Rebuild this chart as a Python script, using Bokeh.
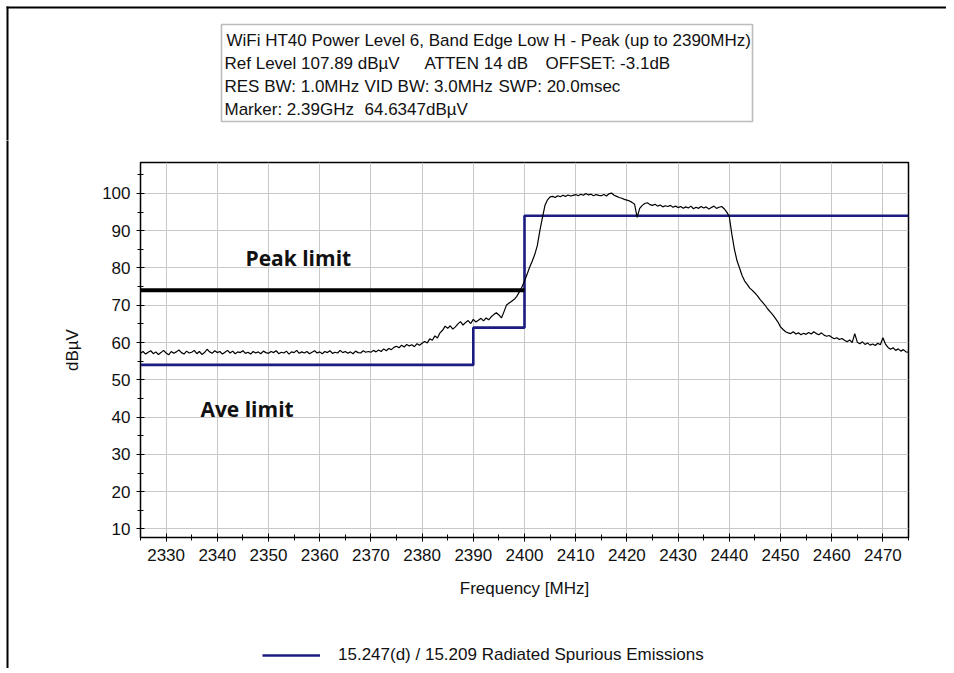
from bokeh.plotting import figure
from bokeh.layouts import column, row
from bokeh.models import (Range1d, SingleIntervalTicker, Label, BoxAnnotation,
                          Legend, LegendItem)
from bokeh.embed import file_html
from bokeh.resources import INLINE

# ---------------- data ----------------
freq_start = 2325.0
freq_step = 0.5
trace_dbuv = [
    57.1, 57.6, 56.9, 57.4, 57.8, 57.0, 57.5, 56.8, 57.3, 57.9,
    57.2, 56.7, 57.6, 57.1, 57.5, 58.0, 57.3, 56.9, 57.7, 57.2,
    57.4, 57.9, 57.0, 57.6, 56.8, 57.3, 58.2, 57.5, 57.1, 57.8,
    57.3, 57.6, 56.9, 57.4, 57.9, 57.2, 57.7, 57.0, 57.5, 57.3,
    57.8, 57.1, 57.4, 56.9, 57.6, 57.2, 57.5, 57.0, 57.7, 57.3,
    57.1, 57.6, 57.3, 57.8, 57.0, 57.4, 57.2, 57.7, 56.9, 57.5,
    57.3, 57.9, 57.1, 57.5, 57.2, 57.6, 57.0, 57.4, 57.8, 57.2,
    57.5, 57.0, 57.6, 57.3, 57.8, 57.1, 57.4, 57.2, 57.9, 57.3,
    57.6, 57.1, 57.5, 57.0, 57.7, 57.3, 57.2, 57.8, 57.4, 57.6,
    57.4, 57.9, 57.5, 58.0, 57.6, 58.3, 57.8, 58.4, 58.1, 58.7,
    59.0, 58.6, 59.3, 58.8, 59.5, 59.1, 59.4, 58.9, 59.7, 59.3,
    59.8, 60.3, 59.9, 61.0, 60.6, 61.8, 61.2, 62.6, 63.3, 64.4,
    63.8, 64.5, 63.6, 64.2, 65.0, 65.6, 64.7, 65.4, 65.9, 65.1,
    66.2, 65.5, 66.0, 66.5, 65.8, 66.6, 66.1, 66.9, 67.5, 68.0,
    67.4, 66.6, 68.3, 70.1, 70.6, 71.1, 71.6, 72.4, 73.6, 74.9,
    76.5, 78.3, 80.2, 81.8, 83.6, 86.0, 90.0, 93.5, 96.8, 98.3,
    99.1, 99.2, 98.9, 99.4, 99.1, 99.5, 99.2, 99.6, 99.3, 99.5,
    99.7, 99.4, 99.8, 99.5, 100.0, 99.6, 99.8, 99.4, 99.7, 99.5,
    99.4, 99.7, 99.3, 99.9, 100.1, 99.5, 99.2, 98.9, 98.7, 98.4,
    98.2, 98.0, 97.6, 97.1, 93.6, 96.0, 96.8, 97.3, 97.5, 97.0,
    96.8, 97.1, 96.6, 96.9, 96.4, 96.7, 96.5, 96.8, 96.3, 96.6,
    96.2, 96.5, 96.0, 96.4, 96.1, 96.6, 95.9, 96.3, 96.0, 96.5,
    96.1, 96.4, 95.8, 96.2, 96.6, 96.0, 96.3, 96.5, 95.9, 95.0,
    93.8, 89.0, 85.0, 82.0, 80.0, 78.0, 76.5, 75.6, 74.6, 74.0,
    73.3, 72.5, 71.6, 70.8, 70.0, 69.0, 68.2, 67.4, 66.5, 65.5,
    64.2, 63.5, 62.9, 62.6, 62.4, 62.9, 62.3, 62.6, 62.1, 62.5,
    62.2, 62.7, 62.3, 62.9, 62.4, 62.1, 62.6, 62.0, 61.7, 61.9,
    61.4, 61.0, 61.3, 60.8, 61.1, 60.6, 60.2, 60.7, 60.0, 62.4,
    60.1, 59.7, 60.2, 59.5, 59.9, 59.3, 59.6, 59.2, 59.8, 59.4,
    61.3, 59.6, 58.7, 58.2, 58.6, 57.9, 58.3, 57.7, 58.1, 57.5,
    57.4,
]
freq_mhz = [freq_start + i * freq_step for i in range(len(trace_dbuv))]

limit_freq = [2325, 2390, 2400, 2475]
limit_dbuv = [54, 64, 94, 94]
peak_limit_freq = [2325, 2400]
peak_limit_dbuv = [74, 74]

header_lines = [
    ["WiFi HT40 Power Level 6, Band Edge Low H - Peak (up to 2390MHz)"],
    ["Ref Level 107.89 dBµV", "ATTEN 14 dB", "OFFSET: -3.1dB"],
    ["RES BW: 1.0MHz", "VID BW: 3.0MHz", "SWP: 20.0msec"],
    ["Marker: 2.39GHz", "64.6347dBµV"],
]
legend_label = "15.247(d) / 15.209 Radiated Spurious Emissions"

FONT = "Liberation Sans"
TXT = "#111111"
NAVY = "#1c1c80"

# page layout (pixels)
HEAD_W = 946
BL, BR = 131, 38          # left / right borders of plot and legend strips
FW = 768                  # frame width
X0 = 9 + BL               # page x of frame left
H_HEAD = 140
H_PLOT = 470
H_LEG = 58
H_ALL = H_HEAD + H_PLOT + H_LEG


def bare(**kw):
    f = figure(x_axis_type=None, y_axis_type=None, tools="",
               toolbar_location=None, output_backend="svg", **kw)
    f.outline_line_color = None
    f.outline_line_alpha = 0
    f.background_fill_color = "white"
    f.border_fill_color = "white"
    f.grid.visible = False
    return f


def black_bar(left, right, top, bottom):
    return BoxAnnotation(left=left, right=right, top=top, bottom=bottom,
                         fill_color="black", fill_alpha=1, line_color=None)


# ---------------- header strip (coordinates = page pixels) ----------------
head = bare(width=HEAD_W, height=H_HEAD, x_range=Range1d(0, HEAD_W),
            y_range=Range1d(H_HEAD, 0), min_border=0, min_border_left=0,
            min_border_right=0, min_border_top=0, min_border_bottom=0)
head.add_layout(black_bar(6, HEAD_W + 10, 6, 8))
head.add_layout(black_bar(6, 8, 6, H_HEAD))
head.add_layout(BoxAnnotation(left=220, right=HEAD_W + 10, top=9, bottom=H_HEAD + 5,
                              fill_color="white", fill_alpha=1, line_color=None,
                              level="overlay"))
head.add_layout(BoxAnnotation(left=221, right=752, top=24, bottom=121,
                              fill_color="white", fill_alpha=1,
                              line_color="#222222", line_width=1.6, level="overlay"))
line_y = [40, 63, 86, 109]
seg_x = [[226], [224, 424, 545], [224, 364, 498], [224, 364]]
for segs, yy, xs in zip(header_lines, line_y, seg_x):
    for txt, xx in zip(segs, xs):
        head.add_layout(Label(x=xx, y=yy, text=txt, text_font=FONT,
                              text_font_size="17px", text_color=TXT,
                              text_baseline="middle", text_align="left",
                              level="overlay"))

# ---------------- left frame strip below the header ----------------
strip = bare(width=9, height=H_PLOT + H_LEG, x_range=Range1d(0, 9),
             y_range=Range1d(H_ALL, H_HEAD), min_border=0, min_border_left=0,
             min_border_right=0, min_border_top=0, min_border_bottom=0)
strip.add_layout(black_bar(6, 8, H_HEAD - 2, H_ALL + 2))

# ---------------- main plot ----------------
p = figure(frame_width=FW, frame_height=375,
           x_range=Range1d(2325, 2475), y_range=Range1d(7.7, 108.3),
           output_backend="svg", toolbar_location=None, tools="",
           min_border_left=BL, min_border_right=BR,
           min_border_top=22, min_border_bottom=73)
p.background_fill_color = "white"
p.border_fill_color = "white"
p.outline_line_color = "black"
p.outline_line_width = 1.5

for ax in (p.xaxis, p.yaxis):
    ax.ticker = SingleIntervalTicker(interval=10, num_minor_ticks=2)
    ax.axis_line_color = "black"
    ax.major_tick_line_color = "black"
    ax.minor_tick_line_color = "black"
    ax.major_tick_in = 4
    ax.major_tick_out = 4
    ax.minor_tick_in = 3
    ax.minor_tick_out = 3
    ax.major_label_text_font = FONT
    ax.major_label_text_font_size = "17px"
    ax.major_label_text_color = TXT
    ax.axis_label_text_font = FONT
    ax.axis_label_text_font_size = "17px"
    ax.axis_label_text_font_style = "normal"
    ax.axis_label_text_color = TXT

p.xaxis.axis_label = "Frequency [MHz]"
p.yaxis.axis_label = "dBµV"
p.xaxis.major_label_standoff = 7
p.xaxis.axis_label_standoff = 15
p.yaxis.major_label_standoff = 6
p.yaxis.axis_label_standoff = 17

p.xgrid.ticker = SingleIntervalTicker(interval=10)
p.ygrid.ticker = SingleIntervalTicker(interval=10)
p.xgrid.grid_line_color = "#c8c8c8"
p.ygrid.grid_line_color = "#c8c8c8"

p.step(limit_freq, limit_dbuv, mode="after", line_color=NAVY, line_width=2.6)
p.line(peak_limit_freq, peak_limit_dbuv, line_color="black", line_width=4)
p.line(freq_mhz, trace_dbuv, line_color="black", line_width=1.2)

p.add_layout(Label(x=2345.5, y=82.8, text="Peak limit", text_font="Open Sans",
                   text_font_style="bold", text_font_size="21px",
                   text_baseline="middle", text_align="left", text_color=TXT))
p.add_layout(Label(x=2336.7, y=42.3, text="Ave limit", text_font="Open Sans",
                   text_font_style="bold", text_font_size="21px",
                   text_baseline="middle", text_align="left", text_color=TXT))

# ---------------- legend strip ----------------
leg = bare(frame_width=FW, height=H_LEG, x_range=Range1d(X0, X0 + FW),
           y_range=Range1d(H_ALL, H_HEAD + H_PLOT),
           min_border_left=BL, min_border_right=BR,
           min_border_top=0, min_border_bottom=0)
# the limit series again, lying outside this strip's ranges; only its legend shows
leg_r = leg.line(limit_freq, limit_dbuv, line_color=NAVY, line_width=2.6)
legend = Legend(items=[LegendItem(label=legend_label, renderers=[leg_r])],
                location=(262 - X0, 3), glyph_width=58, glyph_height=20,
                label_height=20, label_standoff=18, padding=0, margin=0,
                border_line_color=None, background_fill_alpha=0,
                label_text_font=FONT, label_text_font_size="17px",
                label_text_color=TXT)
leg.add_layout(legend)

layout = column(head, row(strip, column(p, leg, spacing=0), spacing=0), spacing=0)

open("out.html", "w").write(file_html(layout, INLINE))
